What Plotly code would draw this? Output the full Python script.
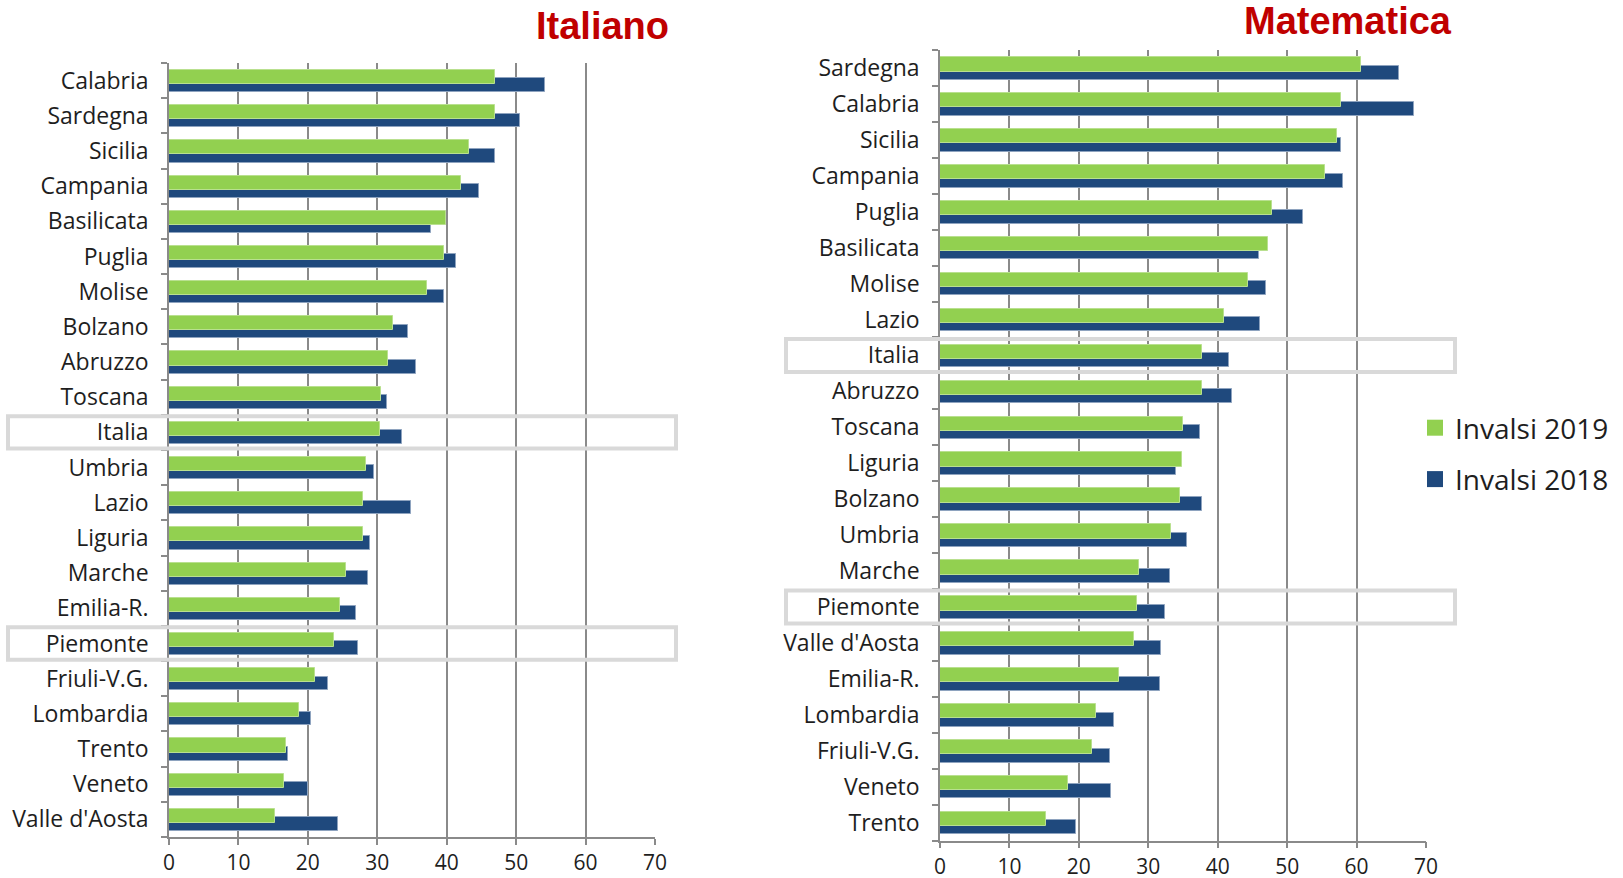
import plotly.graph_objects as go

# Italiano: regions ordered top to bottom
ita_regions = ["Calabria", "Sardegna", "Sicilia", "Campania", "Basilicata", "Puglia",
               "Molise", "Bolzano", "Abruzzo", "Toscana", "Italia", "Umbria", "Lazio",
               "Liguria", "Marche", "Emilia-R.", "Piemonte", "Friuli-V.G.", "Lombardia",
               "Trento", "Veneto", "Valle d'Aosta"]
ita_2019 = [47.0, 46.9, 43.2, 42.1, 39.9, 39.6, 37.1, 32.2, 31.5, 30.6, 30.4, 28.4, 28.0,
            27.9, 25.5, 24.7, 23.8, 21.1, 18.7, 16.8, 16.5, 15.3]
ita_2018 = [54.1, 50.5, 47.0, 44.7, 37.8, 41.3, 39.6, 34.4, 35.6, 31.4, 33.5, 29.5, 34.8,
            29.0, 28.7, 27.0, 27.2, 22.9, 20.4, 17.2, 20.0, 24.4]

# Matematica: regions ordered top to bottom
mat_regions = ["Sardegna", "Calabria", "Sicilia", "Campania", "Puglia", "Basilicata",
               "Molise", "Lazio", "Italia", "Abruzzo", "Toscana", "Liguria", "Bolzano",
               "Umbria", "Marche", "Piemonte", "Valle d'Aosta", "Emilia-R.", "Lombardia",
               "Friuli-V.G.", "Veneto", "Trento"]
mat_2019 = [60.6, 57.8, 57.2, 55.5, 47.8, 47.3, 44.3, 40.9, 37.8, 37.8, 35.0, 34.9, 34.5,
            33.2, 28.6, 28.4, 28.0, 25.8, 22.5, 21.9, 18.4, 15.3]
mat_2018 = [66.1, 68.3, 57.7, 58.0, 52.3, 45.9, 46.9, 46.1, 41.6, 42.1, 37.4, 34.0, 37.8,
            35.6, 33.1, 32.4, 31.8, 31.7, 25.0, 24.5, 24.6, 19.6]

x_ticks = [0, 10, 20, 30, 40, 50, 60, 70]
highlighted = ["Italia", "Piemonte"]

GREEN = "#92D050"
BLUE = "#1F497D"
GRID = "#8a8a8a"
TEXT = "#1e1e1e"
LABEL_FONT = "Open Sans, Lato, DejaVu Sans, sans-serif"

W, H = 1623, 878


def px_x(v):
    return v / W


def px_y(v):
    return 1 - v / H


fig = go.Figure()


def add_panel(regions, v2019, v2018, xa, ya):
    n = len(regions)
    pos = [n - 1 - i for i in range(n)]
    # 2018 bars sit behind, shifted down; 2019 bars overlap on top
    fig.add_trace(go.Bar(
        x=v2018, y=pos, orientation="h", name="Invalsi 2018",
        marker=dict(color=BLUE, line=dict(color="#8ea3bf", width=1)),
        width=0.39, offset=-0.33, xaxis=xa, yaxis=ya, showlegend=False,
        hovertemplate="%{x}<extra>Invalsi 2018</extra>"))
    fig.add_trace(go.Bar(
        x=v2019, y=pos, orientation="h", name="Invalsi 2019",
        marker=dict(color=GREEN, line=dict(color="#b9e08f", width=1)),
        width=0.40, offset=-0.10, xaxis=xa, yaxis=ya, showlegend=False,
        hovertemplate="%{x}<extra>Invalsi 2019</extra>"))
    return pos


ita_pos = add_panel(ita_regions, ita_2019, ita_2018, "x", "y")
mat_pos = add_panel(mat_regions, mat_2019, mat_2018, "x2", "y2")

# legend entries with larger square swatches
for name, color, grp in [("Invalsi 2019", GREEN, "a"), ("Invalsi 2018", BLUE, "b")]:
    fig.add_trace(go.Scatter(
        x=[None], y=[None], mode="markers", name=name, legendgroup=grp,
        marker=dict(symbol="square", size=16, color=color),
        xaxis="x2", yaxis="y2", showlegend=True, hoverinfo="skip"))

xaxis_common = dict(
    range=[0, 70], tickmode="array", tickvals=x_ticks,
    showgrid=True, gridcolor=GRID, gridwidth=1.6,
    showline=True, linecolor=GRID, linewidth=1.6,
    ticks="outside", ticklen=6, tickcolor=GRID, tickwidth=1.6,
    zeroline=False, automargin=False, fixedrange=True,
    tickfont=dict(family=LABEL_FONT, size=21, color=TEXT),
)


def yaxis_for(regions, pos):
    n = len(regions)
    return dict(
        range=[-0.5, n - 0.5], tickmode="array", tickvals=pos, ticktext=regions,
        ticks="", showgrid=False, zeroline=False,
        showline=True, linecolor=GRID, linewidth=1.6,
        minor=dict(tickmode="array", tickvals=[k - 0.5 for k in range(n + 1)],
                   ticks="outside", ticklen=6, tickcolor=GRID, tickwidth=1.6,
                   showgrid=False),
        ticklabelstandoff=14, automargin=False, fixedrange=True,
        tickfont=dict(family=LABEL_FONT, size=23, color=TEXT),
    )


fig.update_layout(
    width=W, height=H,
    margin=dict(l=0, r=0, t=0, b=0),
    paper_bgcolor="white", plot_bgcolor="white",
    barmode="overlay", bargap=0,
    xaxis=dict(domain=[px_x(169), px_x(655)], anchor="y", **xaxis_common),
    yaxis=dict(domain=[px_y(837), px_y(63)], anchor="x", **yaxis_for(ita_regions, ita_pos)),
    xaxis2=dict(domain=[px_x(940), px_x(1426)], anchor="y2", **xaxis_common),
    yaxis2=dict(domain=[px_y(840.5), px_y(50)], anchor="x2", **yaxis_for(mat_regions, mat_pos)),
    showlegend=True,
    legend=dict(
        x=px_x(1415), y=px_y(403), xanchor="left", yanchor="top",
        font=dict(family=LABEL_FONT, size=28, color=TEXT),
        traceorder="grouped", tracegroupgap=12,
        bgcolor="rgba(0,0,0,0)", itemwidth=30,
    ),
)

TITLE_FONT = "Liberation Sans, Arial, sans-serif"
fig.add_annotation(text="<b>Italiano</b>", xref="paper", yref="paper",
                   x=px_x(671), y=px_y(26), xanchor="right", yanchor="middle",
                   showarrow=False, font=dict(family=TITLE_FONT, size=38, color="#C00000"))
fig.add_annotation(text="<b>Matematica</b>", xref="paper", yref="paper",
                   x=px_x(1454), y=px_y(21), xanchor="right", yanchor="middle",
                   showarrow=False, font=dict(family=TITLE_FONT, size=38, color="#C00000"))

# grey frames around the highlighted rows
for name in highlighted:
    p = ita_pos[ita_regions.index(name)]
    fig.add_shape(type="rect", xref="paper", yref="y",
                  x0=px_x(8), x1=px_x(676), y0=p - 0.46, y1=p + 0.46,
                  line=dict(color="#d9d9d9", width=4), fillcolor="rgba(0,0,0,0)", layer="above")
    p2 = mat_pos[mat_regions.index(name)]
    fig.add_shape(type="rect", xref="paper", yref="y2",
                  x0=px_x(786), x1=px_x(1455), y0=p2 - 0.46, y1=p2 + 0.46,
                  line=dict(color="#d9d9d9", width=4), fillcolor="rgba(0,0,0,0)", layer="above")

fig.write_html("out.html")
